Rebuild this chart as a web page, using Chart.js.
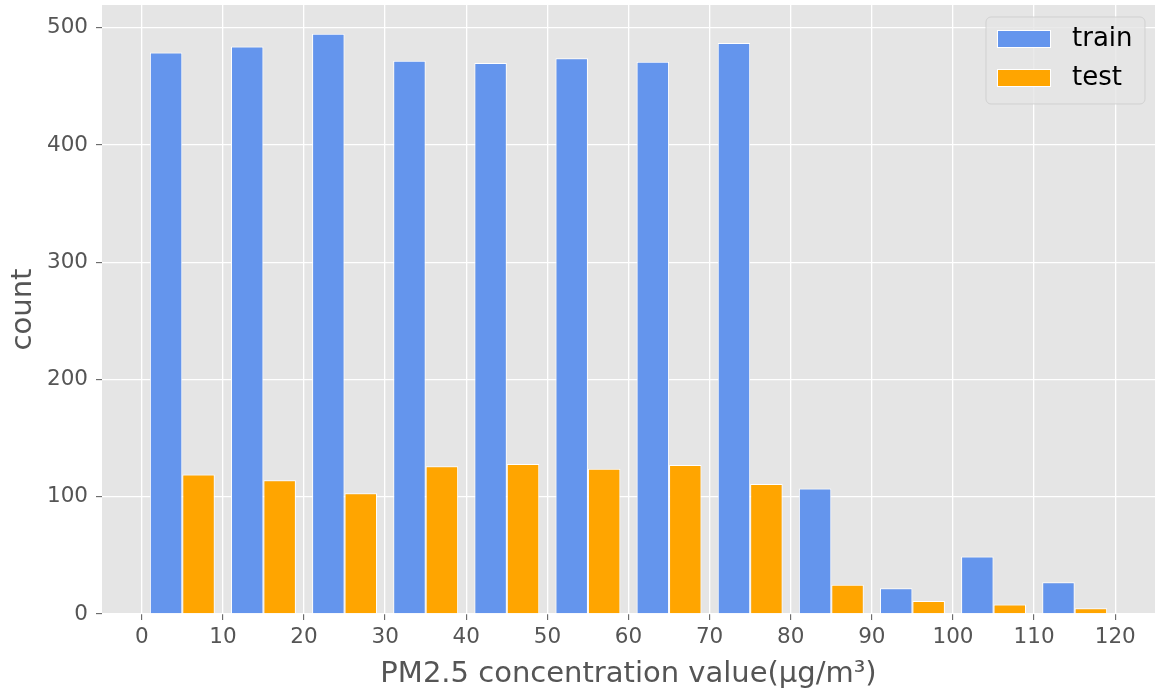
<!DOCTYPE html>
<html>
<head>
<meta charset="utf-8">
<script src="https://cdn.jsdelivr.net/npm/chart.js@4/dist/chart.umd.min.js"></script>
<style>
  html, body { margin: 0; padding: 0; background: #fff; }
  canvas { display: block; }
</style>
</head>
<body>
<canvas id="pmChart" width="1155" height="688"></canvas>
<script>
// 히스토그램 구간과 카운트
const binEdges = [0, 10, 20, 30, 40, 50, 60, 70, 80, 90, 100, 110, 120];
const seriesNames = ['train', 'test'];
const trainCounts = [479, 484, 495, 472, 470, 474, 471, 487, 107, 22, 49, 27];
const testCounts = [119, 114, 103, 126, 128, 124, 127, 111, 25, 11, 8, 5];
const yTicks = [0, 100, 200, 300, 400, 500];

const FONT = '"DejaVu Sans", sans-serif';
const TEXT_GRAY = '#555555';

// 구간 중심에 막대 배치
const toPoints = counts => counts.map((c, i) => ({
    x: (binEdges[i] + binEdges[i + 1]) / 2,
    y: c
}));

// 눈금 라벨 때문에 생기는 여백 제거
const noLabelPadding = scale => {
    scale.paddingTop = 0;
    scale.paddingBottom = 0;
    scale.paddingLeft = 0;
    scale.paddingRight = 0;
};

// 플롯 배경
const plotBackground = {
    id: 'plotBackground',
    beforeDraw(chart) {
        const { ctx, chartArea: a } = chart;
        ctx.save();
        ctx.fillStyle = '#E5E5E5';
        ctx.fillRect(a.left, a.top, a.right - a.left, a.bottom - a.top);
        ctx.restore();
    }
};

// 오른쪽 위 범례 (반투명 박스)
const boxLegend = {
    id: 'boxLegend',
    beforeDatasetsDraw(chart) {
        const { ctx, chartArea: a } = chart;
        const w = 159, h = 87;
        const x = a.right - 10 - w, y = a.top + 12;
        ctx.save();
        ctx.beginPath();
        ctx.roundRect(x, y, w, h, 5);
        ctx.fillStyle = 'rgba(229,229,229,0.8)';
        ctx.fill();
        ctx.strokeStyle = 'rgba(204,204,204,0.8)';
        ctx.lineWidth = 1;
        ctx.stroke();

        chart.data.datasets.forEach((ds, i) => {
            const sy = y + 13 + i * 39;
            ctx.fillStyle = ds.backgroundColor;
            ctx.fillRect(x + 11, sy, 54, 18);
            ctx.strokeStyle = '#ffffff';
            ctx.strokeRect(x + 11.5, sy + 0.5, 53, 17);
            ctx.fillStyle = '#000000';
            ctx.font = '26px ' + FONT;
            ctx.textBaseline = 'middle';
            ctx.textAlign = 'left';
            ctx.fillText(ds.label, x + 86, sy + 9);
        });
        ctx.restore();
    }
};

const ctx = document.getElementById('pmChart').getContext('2d');
new Chart(ctx, {
    type: 'bar',
    data: {
        datasets: [{
            label: seriesNames[0],
            data: toPoints(trainCounts),
            backgroundColor: '#6495ED',
            borderColor: '#ffffff',
            borderWidth: 1
        }, {
            label: seriesNames[1],
            data: toPoints(testCounts),
            backgroundColor: '#FFA500',
            borderColor: '#ffffff',
            borderWidth: 1
        }]
    },
    options: {
        responsive: false,
        animation: false,
        layout: { padding: { top: 5, right: 0, left: 0, bottom: 0 } },
        datasets: {
            bar: { categoryPercentage: 0.8, barPercentage: 1.0 }
        },
        plugins: {
            legend: { display: false },
            tooltip: { enabled: false }
        },
        scales: {
            x: {
                type: 'linear',
                min: -4.9,
                max: 124.9,
                offset: false,
                afterFit(scale) {
                    scale.height = 74;
                    noLabelPadding(scale);
                },
                afterBuildTicks(scale) {
                    scale.ticks = binEdges.map(v => ({ value: v }));
                },
                grid: {
                    offset: false,
                    color: '#ffffff',
                    lineWidth: 1.3,
                    tickColor: TEXT_GRAY,
                    tickLength: 6,
                    tickWidth: 1
                },
                border: { display: false },
                ticks: {
                    includeBounds: false,
                    color: TEXT_GRAY,
                    font: { family: FONT, size: 21.5 },
                    padding: 5,
                    maxRotation: 0
                },
                title: {
                    display: true,
                    text: 'PM2.5 concentration value(μg/m³)',
                    color: TEXT_GRAY,
                    font: { family: FONT, size: 29 },
                    padding: { top: 0, bottom: -4 }
                }
            },
            y: {
                min: 0,
                max: 519.5,
                afterFit(scale) {
                    scale.width = 102;
                    noLabelPadding(scale);
                },
                afterBuildTicks(scale) {
                    scale.ticks = yTicks.map(v => ({ value: v }));
                },
                grid: {
                    color: '#ffffff',
                    lineWidth: 1.3,
                    tickColor: TEXT_GRAY,
                    tickLength: 6,
                    tickWidth: 1
                },
                border: { display: false },
                ticks: {
                    includeBounds: false,
                    color: TEXT_GRAY,
                    font: { family: FONT, size: 21.5 },
                    padding: 8
                },
                title: {
                    display: true,
                    text: 'count',
                    color: TEXT_GRAY,
                    font: { family: FONT, size: 29 },
                    padding: { top: 6, bottom: 0 }
                }
            }
        }
    },
    plugins: [plotBackground, boxLegend]
});
</script>
</body>
</html>
